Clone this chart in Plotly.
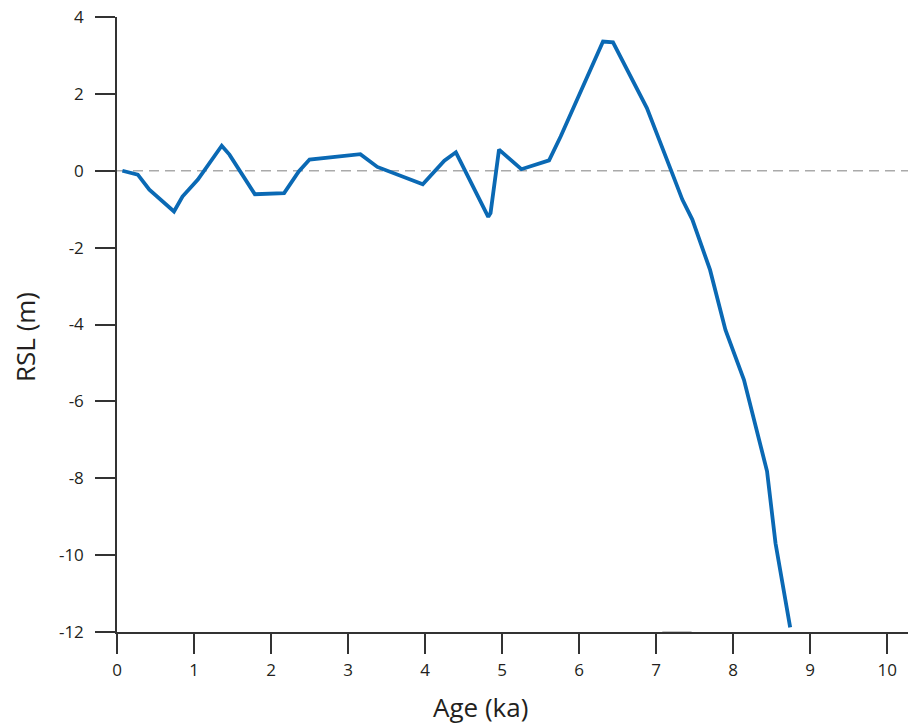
import plotly.graph_objects as go

# Relative sea level curve (age in ka, RSL in m)
age_ka = [0.07, 0.27, 0.42, 0.74, 0.85, 1.05, 1.36, 1.46, 1.79, 2.17, 2.36, 2.50,
          3.16, 3.38, 3.97, 4.25, 4.40, 4.82, 4.85, 4.96, 5.25, 5.61, 5.76,
          6.31, 6.44, 6.88, 7.19, 7.34, 7.47, 7.70, 7.90, 8.14, 8.44, 8.55, 8.74]
rsl_m = [0.00, -0.10, -0.49, -1.06, -0.67, -0.23, 0.65, 0.42, -0.61, -0.58, -0.02, 0.29,
         0.43, 0.10, -0.35, 0.26, 0.48, -1.20, -1.10, 0.55, 0.04, 0.27, 0.89,
         3.36, 3.34, 1.63, 0.03, -0.75, -1.27, -2.58, -4.14, -5.44, -7.82, -9.69, -11.88]

# Zero reference line
ref_x = [0.0, 10.27]
ref_y = [0.0, 0.0]

# small grey segment lying on the bottom axis
seg_x = [7.08, 7.46]
seg_y = [-12.0, -12.0]

x_ticks = [0, 1, 2, 3, 4, 5, 6, 7, 8, 9, 10]
y_ticks = [4, 2, 0, -2, -4, -6, -8, -10, -12]

FONT = "Open Sans"
AX = "#333333"
TXT = "#231f20"

fig = go.Figure()
fig.add_trace(go.Scatter(x=ref_x, y=ref_y, mode="lines",
                         line=dict(color="#aaaaaa", width=1.5, dash="10px,6px"),
                         hoverinfo="skip", showlegend=False))
fig.add_trace(go.Scatter(x=seg_x, y=seg_y, mode="lines",
                         line=dict(color="#b0b0b0", width=1.5),
                         hoverinfo="skip", showlegend=False, cliponaxis=False))
fig.add_trace(go.Scatter(x=age_ka, y=rsl_m, mode="lines",
                         line=dict(color="#0a69b4", width=3.8),
                         showlegend=False, cliponaxis=False))

fig.update_layout(
    width=910, height=726,
    margin=dict(l=117, r=2, t=17, b=94),
    paper_bgcolor="white", plot_bgcolor="white",
    font=dict(family=FONT, color=TXT),
    xaxis=dict(range=[0, 10.27], tickvals=x_ticks, ticktext=[str(v) for v in x_ticks],
               ticks="outside", ticklen=20, tickwidth=1.5, tickcolor=AX,
               showline=True, linecolor=AX, linewidth=1.5,
               showgrid=False, zeroline=False, ticklabelstandoff=2,
               ticklabeloverflow="allow",
               tickfont=dict(family=FONT, size=17, color=TXT)),
    yaxis=dict(range=[-12, 4], tickvals=y_ticks, ticktext=[str(v) for v in y_ticks],
               ticks="outside", ticklen=20, tickwidth=1.5, tickcolor=AX,
               showline=True, linecolor=AX, linewidth=1.5,
               showgrid=False, zeroline=False, ticklabelstandoff=8,
               ticklabeloverflow="allow",
               tickfont=dict(family=FONT, size=17, color=TXT)),
    annotations=[
        dict(text="Age (ka)", xref="paper", yref="paper", x=(480 - 117) / 791,
             y=-(707 - 632) / 615, xanchor="center", yanchor="middle", showarrow=False,
             font=dict(family=FONT, size=26, color=TXT)),
        dict(text="RSL (m)", xref="paper", yref="paper", x=(25 - 117) / 791,
             y=(632 - 337) / 615, xanchor="center", yanchor="middle", showarrow=False,
             textangle=-90, font=dict(family=FONT, size=26, color=TXT)),
    ],
)

fig.write_html("out.html",
               config={"displayModeBar": False},
               post_script="document.body.style.margin='0';document.body.style.overflow='hidden';")
